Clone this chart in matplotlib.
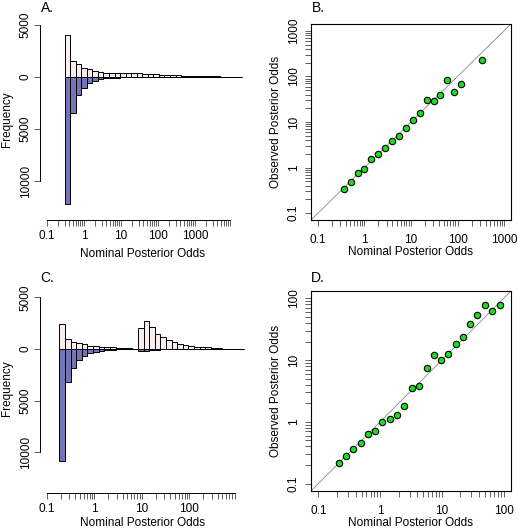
import numpy as np
import matplotlib
matplotlib.use("Agg")
import matplotlib.pyplot as plt

plt.rcParams['font.family'] = ['Liberation Sans', 'DejaVu Sans']
plt.rcParams['font.size'] = 8.5

# ---- Data ----
# Panel A histogram: 32 log bins, width 0.15 decades, first edge at 10^-0.525
edges_a = np.logspace(-0.525, 4.275, 33)
pos_a = [4010, 1540, 1220, 870, 740, 610, 510, 420, 420, 400, 385, 350, 420, 350, 320, 290,
         255, 225, 190, 225, 160, 130, 120, 110, 110, 100, 100, 90, 40, 30, 20, 15]
neg_a = [12180, 3460, 1760, 1050, 560, 360, 220, 110, 86, 53, 35, 22, 14, 12, 8, 3,
         6, 3, 0, 0, 1, 0, 0, 0, 0, 0, 0, 0, 0, 0, 0, 0]

# Panel B: nominal vs observed posterior odds
nom_b = [0.37, 0.51, 0.71, 1.0, 1.41, 2.0, 2.77, 3.9, 5.5, 7.8, 10.9, 15.3, 21.7, 30.6,
         43, 60, 86, 120, 338]
obs_b = [0.335, 0.48, 0.75, 0.95, 1.51, 2.0, 2.66, 3.9, 4.9, 7.5, 10.9, 15.6, 30.8, 28.4,
         39.5, 85, 45, 69.5, 233]

# Panel C histogram: 33 log bins, width 0.118 decades, first edge at 10^-0.731
edges_c = np.logspace(-0.731, 3.163, 34)
pos_c = [2400, 930, 670, 545, 450, 320, 290, 225, 190, 160, 130, 130, 64, 30, 1990, 2730,
         2090, 1480, 1120, 835, 640, 450, 350, 290, 225, 190, 160, 130, 100, 30, 30, 10, 5]
neg_c = [10830, 3205, 1860, 1120, 670, 415, 290, 203, 146, 90, 37, 34, 9, 3, 201, 215,
         115, 62, 29, 15, 8, 7, 4, 0, 0, 0, 0, 0, 0, 0, 0, 0, 0]

# Panel D
nom_d = [0.213, 0.279, 0.37, 0.49, 0.64, 0.83, 1.09, 1.45, 1.88, 2.47, 3.24, 4.31, 5.66,
         7.43, 9.76, 12.8, 16.8, 22.1, 28.6, 37.6, 49.4, 65.6, 86]
obs_d = [0.213, 0.28, 0.365, 0.46, 0.63, 0.72, 1.0, 1.11, 1.30, 1.78, 3.52, 3.8, 7.5,
         12.1, 9.9, 12.7, 18.1, 23.8, 38.4, 54.7, 78.7, 63.5, 78.7]

W, H = 517, 531
fig = plt.figure(figsize=(W / 100, H / 100), dpi=100)

pale = "#F9EDED"
blue = "#7373B5"
green = "#19E019"


def px_axes(l, t, r, b):
    return fig.add_axes([l / W, 1 - b / H, (r - l) / W, (b - t) / H])


def px_text(x, y, s, **kw):
    # place text at pixel position measured from the top-left corner
    fig.text(x / W, 1 - y / H, s, ha="center", va="center", **kw)


def log_ticks(lo_exp, hi_exp, last=None):
    ticks, labels = [], []
    for e in range(lo_exp, hi_exp + 1):
        for m in range(1, 10):
            v = m * 10.0 ** e
            if last is not None and v > last * 1.001:
                break
            ticks.append(v)
            labels.append(("%g" % v) if m == 1 else "")
    return ticks, labels


def style_ticks(ax, xpad=3, ypad=4):
    ax.tick_params(direction="out", length=4, width=0.6, color="#444444")
    ax.tick_params(axis="x", pad=xpad)
    ax.tick_params(axis="y", pad=ypad)


def hist_panel(ax, edges, pos, neg, xlim, ylim, xlast):
    widths = np.diff(edges)
    ax.bar(edges[:-1], pos, width=widths, align="edge", color=pale,
           edgecolor="black", linewidth=0.7)
    ax.bar(edges[:-1], [-v for v in neg], width=widths, align="edge", color=blue,
           edgecolor="black", linewidth=0.7)
    ax.set_xscale("log")
    ax.set_xlim(*xlim)
    ax.set_ylim(*ylim)
    for s in ["top", "right"]:
        ax.spines[s].set_visible(False)
    ax.spines["left"].set_bounds(-10000, 5000)
    ax.spines["bottom"].set_bounds(0.1, xlast)
    ax.spines["left"].set_linewidth(0.7)
    ax.spines["bottom"].set_linewidth(0.7)
    ax.set_yticks([5000, 0, -5000, -10000])
    ax.set_yticklabels(["5000", "0", "5000", "10000"], rotation=90, va="center")
    t, l = log_ticks(-1, int(np.floor(np.log10(xlast))), xlast)
    ax.set_xticks(t)
    ax.set_xticklabels(l)
    ax.xaxis.set_minor_locator(matplotlib.ticker.NullLocator())
    style_ticks(ax, xpad=3, ypad=2)


def scatter_panel(ax, nom, obs, lo, hi, hi_exp):
    ax.set_xscale("log")
    ax.set_yscale("log")
    ax.plot([lo, hi], [lo, hi], color="#888888", lw=0.6)
    ax.plot(nom, obs, "o", ms=4.6, mfc=green, mec="black", mew=0.8)
    ax.set_xlim(lo, hi)
    ax.set_ylim(lo, hi)
    t, l = log_ticks(-1, hi_exp, 10.0 ** hi_exp)
    ax.set_xticks(t)
    ax.set_xticklabels(l)
    ax.set_yticks(t)
    ax.set_yticklabels(l, rotation=90, va="center")
    ax.xaxis.set_minor_locator(matplotlib.ticker.NullLocator())
    ax.yaxis.set_minor_locator(matplotlib.ticker.NullLocator())
    for s in ax.spines.values():
        s.set_linewidth(0.8)
    style_ticks(ax, xpad=6, ypad=4)


axA = px_axes(40, 18, 245, 220)
hist_panel(axA, edges_a, pos_a, neg_a, (10 ** -1.189, 10 ** 4.351), (-13750, 5673), 9000)

axB = px_axes(311, 24, 511, 220)
scatter_panel(axB, nom_b, obs_b, 10 ** -1.15, 10 ** 3.15, 3)

axC = px_axes(40, 283, 245, 493)
hist_panel(axC, edges_c, pos_c, neg_c, (10 ** -1.141, 10 ** 3.175), (-13954, 6382), 900)

axD = px_axes(311, 291, 511, 491)
scatter_panel(axD, nom_d, obs_d, 10 ** -1.12, 10 ** 2.12, 2)

# axis titles and panel letters
px_text(142, 254, "Nominal Posterior Odds")
px_text(142, 523, "Nominal Posterior Odds")
px_text(411, 252, "Nominal Posterior Odds")
px_text(411, 523, "Nominal Posterior Odds")
px_text(7, 119, "Frequency", rotation=90)
px_text(7, 388, "Frequency", rotation=90)
px_text(276, 122, "Observed Posterior Odds", rotation=90)
px_text(276, 391, "Observed Posterior Odds", rotation=90)
px_text(47, 8, "A.", fontsize=10)
px_text(47, 278, "C.", fontsize=10)
px_text(318, 8, "B.", fontsize=10)
px_text(318, 278, "D.", fontsize=10)

fig.savefig("out.png", dpi=100)
